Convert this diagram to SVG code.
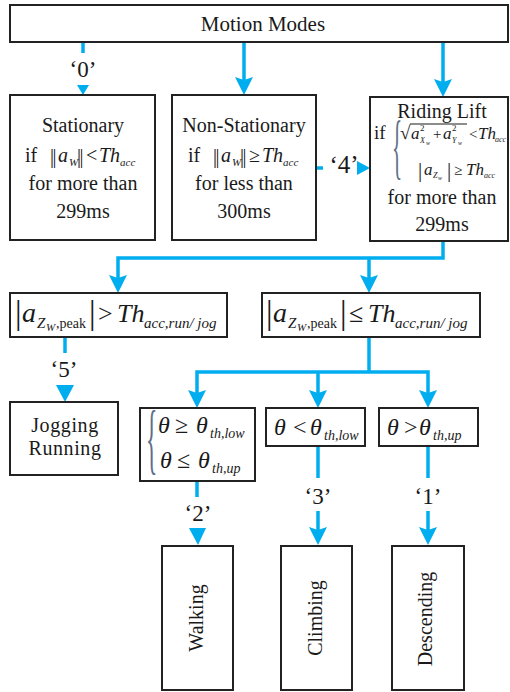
<svg xmlns="http://www.w3.org/2000/svg" width="510" height="692" viewBox="0 0 510 692" font-family="'Liberation Serif', serif">
<style>
text{font-family:'Liberation Serif',serif;fill:#1a1a1a}
.box{fill:#fff;stroke:#222;stroke-width:2}
.t{font-size:20px;text-anchor:middle}
.i{font-style:italic}
.cn{fill:none;stroke:#00AEEF;stroke-width:3.5}
.ah{fill:#00AEEF}
.lb{font-size:23px;text-anchor:middle}
.br{fill:#5f7088}
</style>
<rect width="510" height="692" fill="#fff"/>

<g id="connectors">
  <line class="cn" x1="83" y1="42" x2="83" y2="53"/>
  <polygon class="ah" points="77,85 89,85 83,95"/>
  <line class="cn" x1="244" y1="42" x2="244" y2="81"/>
  <polygon class="ah" points="235,77 244,80 253,77 244,95"/>
  <line class="cn" x1="443" y1="42" x2="443" y2="83"/>
  <polygon class="ah" points="434,79 443,82 452,79 443,97"/>
  <line class="cn" x1="316" y1="168" x2="323" y2="168"/>
  <polygon class="ah" points="357,161 357,175 370,168"/>
  <polyline class="cn" points="443,241 443,258 118,258 118,279"/>
  <polygon class="ah" points="109,275 118,278 127,275 118,293"/>
  <line class="cn" x1="369" y1="258" x2="369" y2="279"/>
  <polygon class="ah" points="360,275 369,278 378,275 369,293"/>
  <line class="cn" x1="65" y1="337" x2="65" y2="353"/>
  <polygon class="ah" points="56,385 74,385 65,402"/>
  <line class="cn" x1="369" y1="337" x2="369" y2="372"/>
  <polyline class="cn" points="197,394 197,372 428,372 428,394"/>
  <line class="cn" x1="318" y1="372" x2="318" y2="394"/>
  <polygon class="ah" points="188,390 197,393 206,390 197,408"/>
  <polygon class="ah" points="309,390 318,393 327,390 318,408"/>
  <polygon class="ah" points="419,390 428,393 437,390 428,408"/>
  <line class="cn" x1="197" y1="481" x2="197" y2="497"/>
  <polygon class="ah" points="189,528 206,528 198,545"/>
  <line class="cn" x1="318" y1="446" x2="318" y2="478"/>
  <line class="cn" x1="318" y1="511" x2="318" y2="531"/>
  <polygon class="ah" points="309,527 318,530 327,527 318,545"/>
  <line class="cn" x1="428" y1="446" x2="428" y2="478"/>
  <line class="cn" x1="428" y1="511" x2="428" y2="531"/>
  <polygon class="ah" points="419,527 428,530 437,527 428,545"/>
  <text class="lb" x="83" y="77">‘0’</text>
  <text class="lb" x="344" y="173" style="font-size:25px">‘4’</text>
  <text class="lb" x="64" y="377">‘5’</text>
  <text class="lb" x="198" y="521">‘2’</text>
  <text class="lb" x="318" y="504">‘3’</text>
  <text class="lb" x="428" y="504">‘1’</text>
</g>

<g id="motion-modes">
  <rect class="box" x="10" y="5" width="498" height="37"/>
  <text class="t" x="263" y="31" style="font-size:21px">Motion Modes</text>
</g>

<g id="stationary">
  <rect class="box" x="10" y="95" width="145" height="145"/>
  <text class="t" x="83" y="132">Stationary</text>
  <text style="font-size:20px"><tspan x="25" y="162">if</tspan><tspan x="50" y="163" style="letter-spacing:-1.5px">||</tspan><tspan class="i" x="58" y="162">a</tspan><tspan class="i" x="69" y="166" style="font-size:11px">W</tspan><tspan x="77" y="163" style="letter-spacing:-1.5px">||</tspan><tspan x="86" y="162">&lt;</tspan><tspan class="i" x="99" y="162">Th</tspan><tspan class="i" x="120" y="166" style="font-size:11px">acc</tspan></text>
  <text class="t" x="83" y="190">for more than</text>
  <text class="t" x="83" y="218">299ms</text>
</g>

<g id="non-stationary">
  <rect class="box" x="172" y="95" width="144" height="145"/>
  <text class="t" x="244" y="132">Non-Stationary</text>
  <text style="font-size:20px"><tspan x="188" y="162">if</tspan><tspan x="213" y="163" style="letter-spacing:-1.5px">||</tspan><tspan class="i" x="221" y="162">a</tspan><tspan class="i" x="232" y="166" style="font-size:11px">W</tspan><tspan x="240" y="163" style="letter-spacing:-1.5px">||</tspan><tspan x="249" y="162">≥</tspan><tspan class="i" x="262" y="162">Th</tspan><tspan class="i" x="283" y="166" style="font-size:11px">acc</tspan></text>
  <text class="t" x="244" y="190">for less than</text>
  <text class="t" x="244" y="218">300ms</text>
</g>

<g id="riding-lift">
  <rect class="box" x="370" y="97" width="138" height="144"/>
  <text class="t" x="442" y="118">Riding Lift</text>
  <text style="font-size:19px" x="374" y="139">if</text>
  <text class="br" transform="translate(392,170) scale(0.3,1)" style="font-size:71px">{</text>
  <text style="font-size:19px" x="400" y="139">√</text>
  <line x1="410" y1="124" x2="467" y2="124" stroke="#1a1a1a" stroke-width="1.2"/>
  <text style="font-size:17px"><tspan class="i" x="411" y="139">a</tspan><tspan x="420" y="131" style="font-size:9px">2</tspan><tspan class="i" x="420" y="143" style="font-size:8px">X</tspan><tspan class="i" x="426" y="145" style="font-size:6px">w</tspan><tspan x="433" y="139" style="font-size:15px">+</tspan><tspan class="i" x="443" y="139">a</tspan><tspan x="452" y="131" style="font-size:9px">2</tspan><tspan class="i" x="452" y="143" style="font-size:8px">Y</tspan><tspan class="i" x="458" y="145" style="font-size:6px">w</tspan><tspan x="469" y="139" style="font-size:15px">&lt;</tspan><tspan class="i" x="478" y="139">Th</tspan><tspan class="i" x="495" y="142" style="font-size:8px">acc</tspan></text>
  <text style="font-size:17px"><tspan x="418" y="177" style="font-size:21px">|</tspan><tspan class="i" x="424" y="175">a</tspan><tspan class="i" x="433" y="178" style="font-size:8px">Z</tspan><tspan class="i" x="438" y="180" style="font-size:6px">w</tspan><tspan x="447" y="177" style="font-size:21px">|</tspan><tspan x="454" y="175" style="font-size:15px">≥</tspan><tspan class="i" x="466" y="175">Th</tspan><tspan class="i" x="484" y="178" style="font-size:8px">acc</tspan></text>
  <text class="t" x="442" y="204">for more than</text>
  <text class="t" x="442" y="231">299ms</text>
</g>

<g id="peak-gt">
  <rect class="box" x="10" y="293" width="217" height="44"/>
  <text style="font-size:26px"><tspan x="15" y="324" style="font-size:33px">|</tspan><tspan class="i" x="22" y="322" style="font-size:28px">a</tspan><tspan class="i" x="37" y="328" style="font-size:15px">Z</tspan><tspan class="i" x="46" y="331" style="font-size:11px">W</tspan><tspan x="56" y="328" style="font-size:14px">,peak</tspan><tspan x="89" y="324" style="font-size:33px">|</tspan><tspan x="98" y="322">&gt;</tspan><tspan class="i" x="117" y="322">Th</tspan><tspan class="i" x="144" y="328" style="font-size:15px">acc,run/ jog</tspan></text>
</g>

<g id="peak-le">
  <rect class="box" x="262" y="293" width="218" height="44"/>
  <text style="font-size:26px"><tspan x="266" y="324" style="font-size:33px">|</tspan><tspan class="i" x="273" y="322" style="font-size:28px">a</tspan><tspan class="i" x="288" y="328" style="font-size:15px">Z</tspan><tspan class="i" x="297" y="331" style="font-size:11px">W</tspan><tspan x="307" y="328" style="font-size:14px">,peak</tspan><tspan x="340" y="324" style="font-size:33px">|</tspan><tspan x="349" y="322">≤</tspan><tspan class="i" x="368" y="322">Th</tspan><tspan class="i" x="395" y="328" style="font-size:15px">acc,run/ jog</tspan></text>
</g>

<g id="jogging-running">
  <rect class="box" x="10" y="402" width="108" height="73"/>
  <text class="t" x="65" y="432" style="letter-spacing:0.6px">Jogging</text>
  <text class="t" x="65" y="455" style="letter-spacing:0.6px">Running</text>
</g>

<g id="theta-between">
  <rect class="box" x="140" y="408" width="115" height="73"/>
  <text class="br" transform="translate(146,465) scale(0.3,1)" style="font-size:79px">{</text>
  <text style="font-size:24px"><tspan class="i" x="158" y="433">θ</tspan><tspan x="175" y="433">≥</tspan><tspan class="i" x="196" y="433">θ</tspan><tspan class="i" x="210" y="438" style="font-size:14px">th,low</tspan></text>
  <text style="font-size:24px"><tspan class="i" x="160" y="468">θ</tspan><tspan x="177" y="468">≤</tspan><tspan class="i" x="198" y="468">θ</tspan><tspan class="i" x="212" y="473" style="font-size:14px">th,up</tspan></text>
</g>

<g id="theta-lt">
  <rect class="box" x="266" y="408" width="99" height="38"/>
  <text style="font-size:24px"><tspan class="i" x="274" y="435">θ</tspan><tspan x="293" y="435">&lt;</tspan><tspan class="i" x="310" y="435">θ</tspan><tspan class="i" x="324" y="440" style="font-size:14px">th,low</tspan></text>
</g>

<g id="theta-gt">
  <rect class="box" x="379" y="408" width="99" height="38"/>
  <text style="font-size:24px"><tspan class="i" x="387" y="435">θ</tspan><tspan x="404" y="435">&gt;</tspan><tspan class="i" x="419" y="435">θ</tspan><tspan class="i" x="433" y="440" style="font-size:14px">th,up</tspan></text>
</g>

<g id="walking">
  <rect class="box" x="162" y="546" width="71" height="144"/>
  <text class="t" transform="translate(203,618) rotate(-90)">Walking</text>
</g>

<g id="climbing">
  <rect class="box" x="281" y="546" width="71" height="144"/>
  <text class="t" transform="translate(322,618) rotate(-90)">Climbing</text>
</g>

<g id="descending">
  <rect class="box" x="392" y="546" width="72" height="144"/>
  <text class="t" transform="translate(432,619) rotate(-90)">Descending</text>
</g>
</svg>
